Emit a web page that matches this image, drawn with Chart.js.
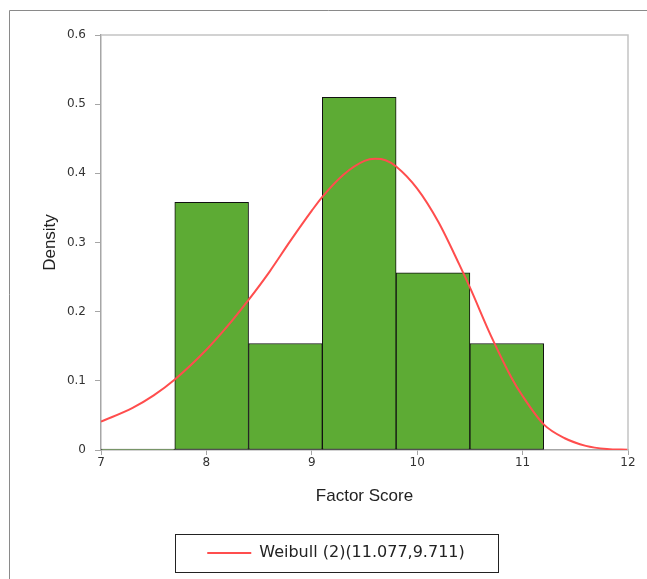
<!DOCTYPE html>
<html>
<head>
<meta charset="utf-8">
<script src="https://cdn.jsdelivr.net/npm/chart.js@4/dist/chart.umd.min.js"></script>
<style>
html,body{margin:0;padding:0;background:#fff;}
#wrap{position:relative;width:647px;height:579px;}
</style>
</head>
<body>
<div id="wrap"><canvas id="c" width="647" height="579"></canvas></div>
<script>
// Histogram bins (centers) and densities
const binCenters = [7.35, 8.05, 8.75, 9.45, 10.15, 10.85];
const binDensity = [0, 0.358, 0.154, 0.51, 0.256, 0.154];
// Fitted Weibull curve
const curveX = [7.0, 7.3, 7.5, 7.7, 8.0, 8.2, 8.4, 8.6, 8.8, 9.0, 9.1, 9.3, 9.5, 9.6, 9.7, 9.8, 10.0, 10.2, 10.4, 10.5, 10.7, 10.9, 11.0, 11.2, 11.4, 11.6, 11.8, 12.0];
const curveY = [0.041, 0.061, 0.079, 0.102, 0.145, 0.179, 0.217, 0.258, 0.303, 0.346, 0.366, 0.398, 0.418, 0.421, 0.419, 0.410, 0.378, 0.330, 0.268, 0.235, 0.165, 0.103, 0.078, 0.037, 0.017, 0.006, 0.0015, 0.0003];
const xTicks = [7, 8, 9, 10, 11, 12];
const yTicks = [0, 0.1, 0.2, 0.3, 0.4, 0.5, 0.6];
const seriesLabel = 'Weibull (2)(11.077,9.711)';

const framePlugin = {
  id: 'frame',
  beforeDraw(chart) {
    const ctx = chart.ctx;
    ctx.save();
    ctx.fillStyle = '#fff';
    ctx.fillRect(0, 0, chart.width, chart.height);
    ctx.strokeStyle = '#8a8a8a';
    ctx.lineWidth = 1;
    ctx.beginPath();
    ctx.moveTo(9.5, chart.height);
    ctx.lineTo(9.5, 10.5);
    ctx.lineTo(chart.width, 10.5);
    ctx.stroke();
    ctx.restore();
  },
  afterDatasetsDraw(chart) {
    const ctx = chart.ctx;
    const a = chart.chartArea;
    ctx.save();
    ctx.strokeStyle = '#c4c4c4';
    ctx.lineWidth = 1.5;
    ctx.beginPath();
    ctx.moveTo(a.left, a.top);
    ctx.lineTo(a.right, a.top);
    ctx.lineTo(a.right, a.bottom);
    ctx.stroke();
    ctx.restore();
  },
  afterDraw(chart) {
    const lg = chart.legend;
    if (!lg || !lg.legendHitBoxes || !lg.legendHitBoxes.length) return;
    const hb = lg.legendHitBoxes[0];
    const ctx = chart.ctx;
    const cy = hb.top + hb.height / 2;
    const l = Math.round(hb.left - 32);
    const r = Math.round(hb.left + hb.width + 33);
    ctx.save();
    ctx.strokeStyle = '#222';
    ctx.lineWidth = 1;
    ctx.strokeRect(l + 0.5, Math.round(cy - 19) + 0.5, r - l, 38);
    ctx.restore();
  }
};

new Chart(document.getElementById('c'), {
  type: 'bar',
  data: {
    datasets: [
      {
        type: 'line',
        label: seriesLabel,
        data: curveX.map((x, i) => ({x: x, y: curveY[i]})),
        borderColor: '#ff4d4d',
        backgroundColor: '#ff4d4d',
        borderWidth: 2,
        pointRadius: 0,
        tension: 0.4,
        cubicInterpolationMode: 'monotone',
        order: 0
      },
      {
        type: 'bar',
        label: 'Histogram',
        data: binCenters.map((x, i) => ({x: x, y: binDensity[i]})),
        backgroundColor: '#5dab34',
        borderColor: '#111',
        borderWidth: 1,
        borderSkipped: false,
        minBarLength: 1,
        barPercentage: 1,
        categoryPercentage: 1,
        order: 1
      }
    ]
  },
  options: {
    responsive: false,
    animation: false,
    events: [],
    layout: {padding: {left: 44, right: 19, top: 35, bottom: 8}},
    plugins: {
      tooltip: {enabled: false},
      legend: {
        position: 'bottom',
        labels: {
          generateLabels: (chart) => Chart.defaults.plugins.legend.labels.generateLabels(chart)
            .filter(it => it.text === seriesLabel)
            .map(it => Object.assign(it, {lineWidth: 0, fillStyle: '#ff4d4d'})),
          boxWidth: 44,
          boxHeight: 2,
          padding: 6,
          color: '#222',
          font: {family: '"DejaVu Sans", sans-serif', size: 16}
        }
      }
    },
    scales: {
      x: {
        type: 'linear',
        min: 7,
        max: 12,
        offset: false,
        afterBuildTicks: (s) => { s.ticks = xTicks.map(v => ({value: v})); },
        afterFit: (s) => { s.height = 89; },
        grid: {offset: false, drawOnChartArea: false, drawTicks: true, tickLength: 5, color: '#a6a6a6'},
        border: {display: true, color: '#a6a6a6', width: 1.5},
        ticks: {color: '#333', padding: 1, font: {family: '"DejaVu Sans", sans-serif', size: 12}},
        title: {display: true, text: 'Factor Score', color: '#222', padding: {top: 0, bottom: 32},
                font: {family: '"Liberation Sans", Arial, sans-serif', size: 17}}
      },
      y: {
        type: 'linear',
        min: 0,
        max: 0.6,
        afterBuildTicks: (s) => { s.ticks = yTicks.map(v => ({value: v})); },
        afterFit: (s) => { s.width = 57; },
        grid: {drawOnChartArea: false, drawTicks: true, tickLength: 6, color: '#a6a6a6'},
        border: {display: true, color: '#a6a6a6', width: 1.5},
        ticks: {color: '#333', padding: 9, font: {family: '"DejaVu Sans", sans-serif', size: 12},
                callback: (v) => String(Math.round(v * 10) / 10)},
        title: {display: true, text: 'Density', color: '#222', padding: {top: -4, bottom: 0},
                font: {family: '"Liberation Sans", Arial, sans-serif', size: 17}}
      }
    }
  },
  plugins: [framePlugin]
});
</script>
</body>
</html>
